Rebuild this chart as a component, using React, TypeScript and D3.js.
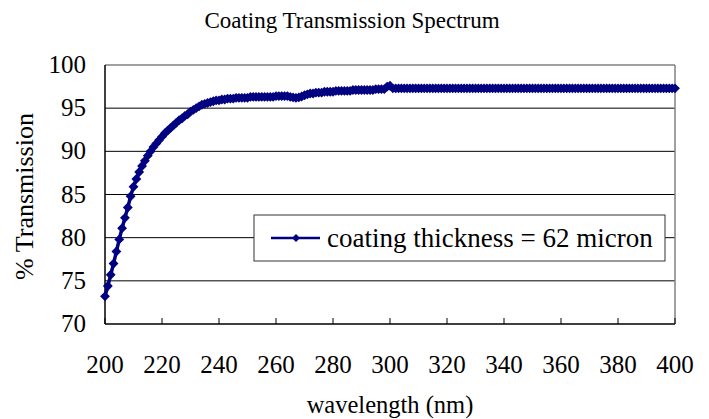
import React from "react";
import * as d3 from "d3";

// wavelength steps: 200..400 nm, 1 nm apart
const startNm = 200;
const transmission: number[] = [
  73.2, 74.4, 75.7, 77.0, 78.4, 79.8, 81.1, 82.3, 83.5, 84.8,
  85.9, 86.8, 87.6, 88.3, 88.9, 89.5, 90.0, 90.5, 90.9, 91.3,
  91.7, 92.1, 92.4, 92.7, 93.0, 93.3, 93.6, 93.8, 94.1, 94.3,
  94.6, 94.8, 95.0, 95.2, 95.4, 95.5, 95.6, 95.7, 95.8, 95.9,
  95.9, 96.0, 96.0, 96.1, 96.1, 96.1, 96.2, 96.2, 96.2, 96.2,
  96.2, 96.3, 96.3, 96.3, 96.3, 96.3, 96.3, 96.3, 96.3, 96.3,
  96.4, 96.4, 96.4, 96.4, 96.4, 96.3, 96.25, 96.2, 96.25, 96.35,
  96.5, 96.6, 96.7, 96.7, 96.8, 96.8, 96.8, 96.9, 96.9, 96.9,
  96.9, 97.0, 97.0, 97.0, 97.0, 97.0, 97.0, 97.1, 97.1, 97.1,
  97.1, 97.1, 97.1, 97.1, 97.1, 97.2, 97.2, 97.2, 97.2, 97.5,
  97.6, 97.3, 97.3, 97.3, 97.3, 97.3, 97.3, 97.3, 97.3, 97.3,
  97.3, 97.3, 97.3, 97.3, 97.3, 97.3, 97.3, 97.3, 97.3, 97.3,
  97.3, 97.3, 97.3, 97.3, 97.3, 97.3, 97.3, 97.3, 97.3, 97.3,
  97.3, 97.3, 97.3, 97.3, 97.3, 97.3, 97.3, 97.3, 97.3, 97.3,
  97.3, 97.3, 97.3, 97.3, 97.3, 97.3, 97.3, 97.3, 97.3, 97.3,
  97.3, 97.3, 97.3, 97.3, 97.3, 97.3, 97.3, 97.3, 97.3, 97.3,
  97.3, 97.3, 97.3, 97.3, 97.3, 97.3, 97.3, 97.3, 97.3, 97.3,
  97.3, 97.3, 97.3, 97.3, 97.3, 97.3, 97.3, 97.3, 97.3, 97.3,
  97.3, 97.3, 97.3, 97.3, 97.3, 97.3, 97.3, 97.3, 97.3, 97.3,
  97.3, 97.3, 97.3, 97.3, 97.3, 97.3, 97.3, 97.3, 97.3, 97.3,
  97.3,
];
const xTicks = [200, 220, 240, 260, 280, 300, 320, 340, 360, 380, 400];
const yTicks = [70, 75, 80, 85, 90, 95, 100];
const seriesName = "coating thickness = 62 micron";

const W = 709;
const H = 419;
const left = 105, right = 675, top = 65, bottom = 324;
const navy = "#000080";
const serif = { fontFamily: "'Liberation Serif', 'Times New Roman', Times, serif" };

const App = () => {
  const x = d3.scaleLinear().domain([200, 400]).range([left, right]);
  const y = d3.scaleLinear().domain([70, 100]).range([bottom, top]);

  const pts = transmission.map((v, i) => [startNm + i, v] as [number, number]);
  const linePath = d3.line<[number, number]>()
    .x(d => x(d[0]))
    .y(d => y(d[1]))(pts) || "";
  const diamond = d3.symbol().type(d3.symbolDiamond2).size(62)() || "";
  const legendDiamond = d3.symbol().type(d3.symbolDiamond2).size(40)() || "";

  return (
    <svg width={W} height={H} style={{ position: "absolute", left: 0, top: 0, background: "#fff", ...serif }}>
      <text x={352} y={28} textAnchor="middle" fontSize={23}>Coating Transmission Spectrum</text>

      {/* grid */}
      {yTicks.filter(t => t > 70 && t < 100).map(t => (
        <line key={t} x1={left} x2={right} y1={y(t)} y2={y(t)} stroke="#000" strokeWidth={1} />
      ))}
      {/* frame top/right */}
      <line x1={left} x2={right} y1={top} y2={top} stroke="#808080" strokeWidth={1.5} />
      <line x1={right} x2={right} y1={top} y2={bottom} stroke="#808080" strokeWidth={1.5} />

      {/* x ticks inside */}
      {xTicks.map(t => (
        <line key={t} x1={x(t)} x2={x(t)} y1={bottom} y2={bottom - 6} stroke="#000" strokeWidth={1} />
      ))}
      {/* axes */}
      <line x1={left} x2={left} y1={top} y2={bottom} stroke="#000" strokeWidth={1.5} />
      <line x1={left} x2={right} y1={bottom} y2={bottom} stroke="#000" strokeWidth={1.5} />

      {/* tick labels */}
      {xTicks.map(t => (
        <text key={t} x={x(t)} y={373} textAnchor="middle" fontSize={25}>{t}</text>
      ))}
      {yTicks.map(t => (
        <text key={t} x={86} y={y(t) + 8} textAnchor="end" fontSize={25}>{t}</text>
      ))}

      <text x={390} y={413} textAnchor="middle" fontSize={24.5}>wavelength (nm)</text>
      <text transform={`translate(33, ${(top + bottom) / 2 + 2}) rotate(-90)`} textAnchor="middle" fontSize={26}>% Transmission</text>

      {/* series */}
      <path d={linePath} fill="none" stroke={navy} strokeWidth={3.5} />
      {pts.map((p, i) => (
        <path key={i} d={diamond} transform={`translate(${x(p[0])},${y(p[1])})`} fill={navy} />
      ))}

      {/* legend */}
      <rect x={254} y={215} width={411} height={46} fill="#fff" stroke="#333" strokeWidth={1} />
      <line x1={271} x2={320} y1={238} y2={238} stroke={navy} strokeWidth={2.5} />
      <path d={legendDiamond} transform="translate(296,238)" fill={navy} />
      <text x={327} y={247} fontSize={27}>{seriesName}</text>
    </svg>
  );
};

export default App;
